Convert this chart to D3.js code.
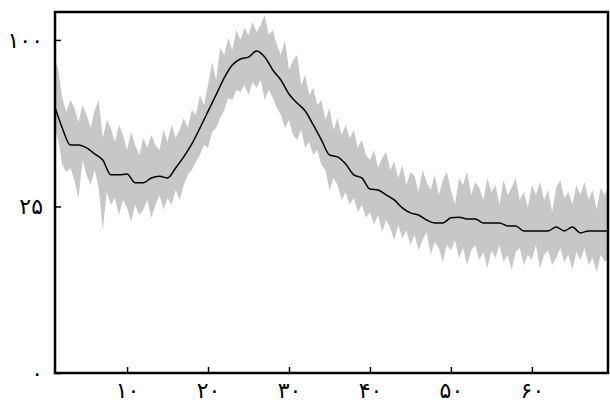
<!DOCTYPE html>
<html>
<head>
<meta charset="utf-8">
<script src="https://cdn.jsdelivr.net/npm/d3@7"></script>
<style>
  html, body { margin: 0; padding: 0; background: #fff; }
  svg { display: block; }
  .tick text { font-family: "DejaVu Sans", sans-serif; font-size: 22px; fill: #000; }
</style>
</head>
<body>
<svg id="chart" width="610" height="403"></svg>
<script>
// ---- data ----
const bandStart = 1;
const bandStep = 0.5;
const bandUpper = [
  91.2,82.8,68.2,61.4,67.2,63.3,56.8,64.8,60.0,54.1,
  62.4,67.2,49.8,57.7,54.1,48.1,55.5,51.1,44.8,52.4,
  46.9,42.9,49.8,45.7,51.1,46.9,44.8,53.2,48.1,55.5,
  49.8,53.2,58.6,54.1,62.4,60.0,69.7,64.8,74.8,87.2,
  77.4,95.3,91.2,101.2,94.1,106.1,100.0,107.3,103.0,111.1,
  104.9,109.2,115.6,103.0,106.1,97.0,91.2,100.0,82.8,88.4,
  91.2,74.8,80.1,69.7,73.2,64.8,67.2,57.7,63.3,53.2,
  58.6,51.1,55.5,49.8,53.2,45.7,49.0,42.9,
  40.9,44.8,37.9,41.7,44.0,37.2,40.2,34.3,39.0,31.9,
  36.4,35.0,29.5,37.2,32.9,30.2,35.4,28.6,33.6,36.4,
  30.2,25.5,34.3,31.9,36.4,28.6,32.9,30.9,27.0,34.3,
  29.5,31.9,25.5,33.6,28.6,30.9,34.3,27.0,29.5,24.6,
  31.9,28.6,32.9,27.0,30.2,23.4,30.9,33.6,27.6,29.5,
  25.5,31.9,28.6,32.9,27.0,30.2,24.0,30.9,28.6,31.9
];
const bandLower = [
  55.5,49.0,39.0,36.4,37.9,33.6,27.6,40.9,35.4,31.9,
  37.2,30.9,18.4,29.5,25.5,27.6,22.5,27.0,24.6,20.6,
  25.5,22.5,24.0,27.0,21.7,25.5,28.6,24.0,27.6,25.5,
  30.2,27.0,31.9,35.4,37.2,40.2,42.9,46.9,45.7,52.4,
  54.1,58.6,62.4,68.2,67.2,72.2,71.2,74.8,69.7,76.4,
  73.2,77.4,67.2,72.2,68.2,63.3,60.0,54.1,57.7,51.1,
  49.0,53.2,45.7,48.1,42.9,44.8,39.0,37.2,30.2,34.3,
  31.9,27.0,29.5,25.5,27.6,23.4,25.5,21.7,
  23.4,19.8,22.5,17.9,21.1,19.0,15.9,19.8,16.4,18.4,
  14.8,17.2,13.6,15.9,17.9,12.6,15.5,14.1,11.1,14.8,
  13.6,15.9,11.9,14.1,10.5,13.6,14.8,11.5,13.2,9.9,
  13.6,11.9,14.8,11.1,12.6,9.6,13.2,14.1,10.5,12.6,
  11.5,14.8,9.9,12.6,13.6,10.5,11.9,14.1,11.1,12.6,
  9.6,13.2,11.5,14.1,10.5,11.9,9.2,12.6,11.1,11.9
];
const lineStart = 1;
const lineStep = 1;
const lineValues = [
  64.8,54.1,46.9,46.9,45.7,43.3,40.9,35.4,35.4,35.7,
  32.6,32.6,34.3,34.9,34.3,37.9,42.1,47.3,54.1,61.7,
  69.8,78.5,85.5,88.9,90.0,93.5,90.0,82.8,77.4,70.2,
  65.7,61.9,55.5,49.0,42.9,42.1,39.4,35.4,34.3,30.5,
  30.2,28.6,27.0,24.6,23.1,22.5,21.1,20.3,20.3,21.7,
  21.9,21.4,21.4,20.3,20.3,20.3,19.5,19.5,18.2,18.2,
  18.2,18.2,19.2,18.2,19.2,17.7,18.2,18.2,18.2,18.2
];
const xDomain = [1.1, 69.4];
const yDomain = [0, 117.5];
const xTicks = [10, 20, 30, 40, 50, 60];
const yTicks = [0, 25, 100];

// ---- drawing ----
const persian = n => String(n).replace(/\d/g, d => "۰۱۲۳۴۵۶۷۸۹"[+d]);
const margin = {left: 55, right: 2, top: 12, bottom: 30};
const W = 610, H = 403;
const svg = d3.select("#chart");

const x = d3.scaleLinear().domain(xDomain).range([margin.left, W - margin.right]);
const y = d3.scaleSqrt().domain(yDomain).range([H - margin.bottom, margin.top]);

const band = bandUpper.map((u, i) => ({x: bandStart + i * bandStep, hi: u, lo: bandLower[i]}));
const line = lineValues.map((v, i) => ({x: lineStart + i * lineStep, v}));

svg.append("clipPath").attr("id", "clip")
  .append("rect")
  .attr("x", x.range()[0]).attr("y", y.range()[1])
  .attr("width", x.range()[1] - x.range()[0])
  .attr("height", y.range()[0] - y.range()[1]);

const plot = svg.append("g").attr("clip-path", "url(#clip)");

plot.append("path")
  .datum(band)
  .attr("fill", "#c6c7c9")
  .attr("d", d3.area().x(d => x(d.x)).y0(d => y(d.lo)).y1(d => y(d.hi)));

plot.append("path")
  .datum(line)
  .attr("fill", "none")
  .attr("stroke", "#000")
  .attr("stroke-width", 1.5)
  .attr("d", d3.line().x(d => x(d.x)).y(d => y(d.v)).curve(d3.curveMonotoneX));

// axes
const xAxis = d3.axisBottom(x).tickValues(xTicks).tickFormat(persian)
  .tickSizeInner(-6).tickSizeOuter(0).tickPadding(9);
const gx = svg.append("g").attr("transform", `translate(0,${y.range()[0]})`).call(xAxis);
gx.select(".domain").remove();
gx.selectAll(".tick line").attr("stroke", "#000").attr("stroke-width", 1.5);

const yAxis = d3.axisLeft(y).tickValues(yTicks).tickFormat(persian)
  .tickSizeInner(-6).tickSizeOuter(0).tickPadding(12);
const gy = svg.append("g").attr("transform", `translate(${x.range()[0]},0)`).call(yAxis);
gy.select(".domain").remove();
gy.selectAll(".tick line").attr("stroke", "#000").attr("stroke-width", 1.5);

// frame
svg.append("rect")
  .attr("x", x.range()[0]).attr("y", y.range()[1])
  .attr("width", x.range()[1] - x.range()[0])
  .attr("height", y.range()[0] - y.range()[1])
  .attr("fill", "none").attr("stroke", "#000").attr("stroke-width", 2.5);
</script>
</body>
</html>
